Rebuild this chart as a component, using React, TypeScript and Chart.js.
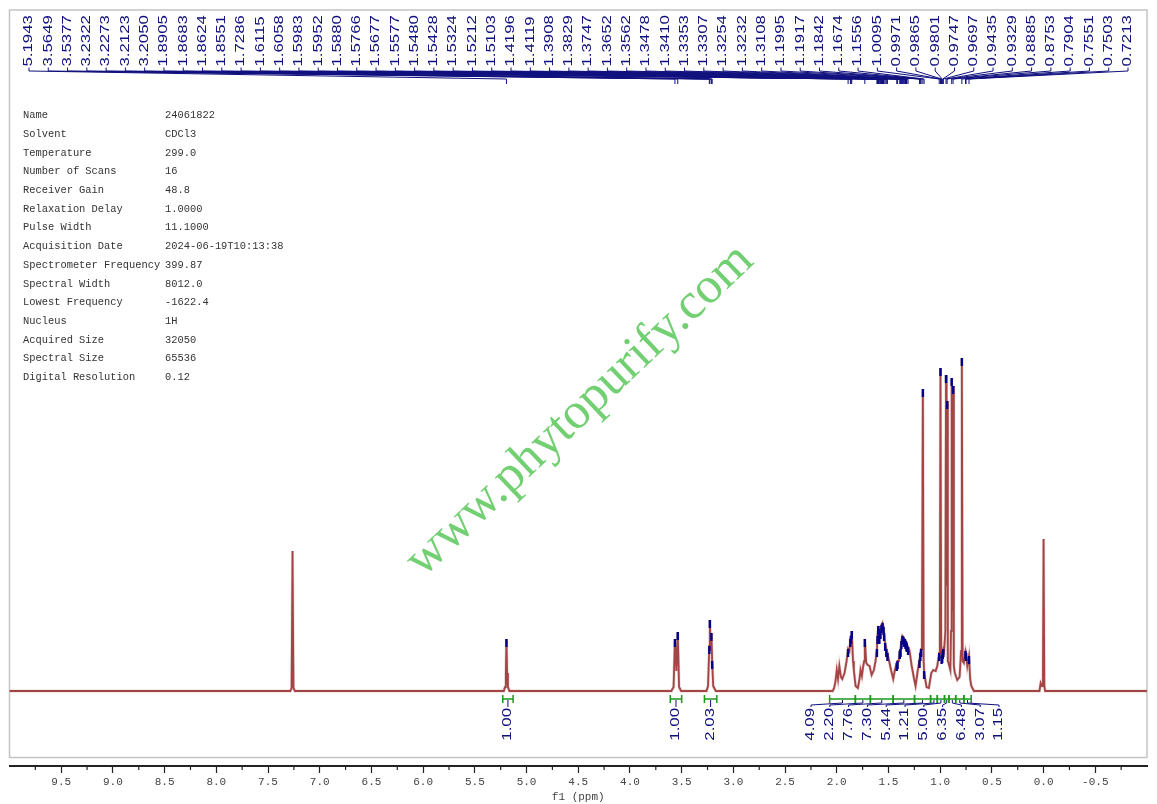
import React, { useEffect, useRef } from "react";
import { Chart, registerables } from "chart.js";

Chart.register(...registerables);

// ---- Spectrum trace (ppm, relative intensity) ----
const SPEC_PPM = [
  10.0, 7.285, 7.272, 7.263, 7.254, 7.24,
  5.22, 5.208, 5.2, 5.1943, 5.188, 5.18, 5.165,
  3.6, 3.578, 3.5649, 3.551, 3.5377, 3.525, 3.505,
  3.26, 3.245, 3.2322, 3.2273, 3.219, 3.2123, 3.205, 3.195, 3.17,
  2.04, 2.025, 2.012, 2.0, 1.988, 1.975, 1.96, 1.947, 1.925, 1.905, 1.8905, 1.878,
  1.8683, 1.8624, 1.8551, 1.843, 1.835, 1.818, 1.796, 1.78, 1.77, 1.757, 1.744, 1.735,
  1.7286, 1.715, 1.7, 1.683, 1.663, 1.641, 1.625, 1.6115, 1.6058, 1.5983, 1.5952, 1.588,
  1.5766, 1.5677, 1.5577, 1.548, 1.5428, 1.5324, 1.5212, 1.5103, 1.496, 1.473, 1.454,
  1.44, 1.4196, 1.4119, 1.4, 1.3908, 1.3829, 1.3747, 1.3652, 1.3562, 1.3478, 1.341,
  1.3353, 1.3307, 1.3254, 1.3232, 1.3108, 1.296, 1.277, 1.254, 1.238, 1.216, 1.1995,
  1.1917, 1.1842, 1.176, 1.1674, 1.16, 1.1556, 1.145, 1.132, 1.109, 1.086, 1.067,
  1.044, 1.028, 1.0095, 1.003, 0.9971, 0.99, 0.9865, 0.9801, 0.9747, 0.9697, 0.962,
  0.95, 0.9435, 0.938, 0.9329, 0.926, 0.919, 0.902, 0.895, 0.8885, 0.882, 0.8753,
  0.868, 0.858, 0.835, 0.812, 0.798, 0.7904, 0.783, 0.771, 0.7551, 0.7503, 0.738,
  0.7213, 0.71, 0.699, 0.674,
  0.04, 0.028, 0.015, 0.006, 0.0, -0.007, -0.015, -1.0,
];
const SPEC_INT = [
  0, 0, 3, 140, 3, 0,
  0, 4, 18, 52, 18, 4, 0,
  0, 4, 52, 20, 59, 4, 0,
  0, 5, 45, 71, 40, 58, 30, 5, 0,
  0, 3, 10, 21, 12, 25, 14, 12, 18, 30, 42, 40,
  52, 55, 60, 30, 21, 5, 3, 12, 21, 15, 25, 30,
  52, 28, 26, 25, 16, 21, 30, 42, 55, 65, 62, 55,
  60, 66, 68, 64, 58, 48, 42, 38, 31, 20, 12,
  20, 28, 30, 30, 40, 42, 50, 55, 54, 52, 52,
  50, 50, 48, 47, 44, 40, 26, 13, 5, 21, 31,
  38, 42, 60, 302, 30, 20, 12, 4, 3, 18, 21,
  20, 25, 38, 60, 323, 35, 35, 36, 40, 42, 40,
  60, 316, 105, 290, 30, 28, 21, 60, 313, 80, 305,
  25, 18, 11, 14, 40, 333, 30, 28, 40, 38, 25,
  35, 12, 5, 0,
  0, 8, 5, 20, 152, 5, 0, 0,
];

// ---- Peak picking (labels at the top, blue tips) ----
const PEAK_PPM = [
  5.1943, 3.5649, 3.5377, 3.2322, 3.2273, 3.2123, 3.205, 1.8905, 1.8683, 1.8624,
  1.8551, 1.7286, 1.6115, 1.6058, 1.5983, 1.5952, 1.588, 1.5766, 1.5677, 1.5577,
  1.548, 1.5428, 1.5324, 1.5212, 1.5103, 1.4196, 1.4119, 1.3908, 1.3829, 1.3747,
  1.3652, 1.3562, 1.3478, 1.341, 1.3353, 1.3307, 1.3254, 1.3232, 1.3108, 1.1995,
  1.1917, 1.1842, 1.1674, 1.1556, 1.0095, 0.9971, 0.9865, 0.9801, 0.9747, 0.9697,
  0.9435, 0.9329, 0.8885, 0.8753, 0.7904, 0.7551, 0.7503, 0.7213,
];
const PEAK_INT = [
  52, 52, 59, 45, 71, 58, 30, 42, 52, 55,
  60, 52, 42, 55, 65, 62, 55, 60, 66, 68,
  64, 58, 48, 42, 38, 28, 30, 40, 42, 50,
  55, 54, 52, 52, 50, 50, 48, 47, 44, 31,
  38, 42, 302, 20, 38, 323, 35, 36, 40, 42,
  316, 290, 313, 305, 333, 40, 38, 35,
];

// ---- Integrals ----
const INT_FROM = [5.23, 3.61, 3.28, 2.069, 1.82, 1.675, 1.455, 1.248, 1.093, 1.028, 0.958, 0.915, 0.85, 0.771];
const INT_TO = [5.13, 3.5, 3.16, 1.82, 1.675, 1.455, 1.248, 1.093, 1.028, 0.958, 0.915, 0.85, 0.771, 0.7];
const INT_VALUES = [1.0, 1.0, 2.03, 4.09, 2.2, 7.76, 7.3, 5.44, 1.21, 5.0, 6.35, 6.48, 3.07, 1.15];

// ---- Axis ticks ----
const X_TICKS = [9.5, 9.0, 8.5, 8.0, 7.5, 7.0, 6.5, 6.0, 5.5, 5.0, 4.5, 4.0, 3.5, 3.0, 2.5, 2.0, 1.5, 1.0, 0.5, 0.0, -0.5];
const X_MINOR = [9.75, 9.25, 8.75, 8.25, 7.75, 7.25, 6.75, 6.25, 5.75, 5.25, 4.75, 4.25, 3.75, 3.25, 2.75, 2.25, 1.75, 1.25, 0.75, 0.25, -0.25, -0.75];

// ---- Parameter table ----
const INFO_KEYS = [
  "Name", "Solvent", "Temperature", "Number of Scans", "Receiver Gain", "Relaxation Delay",
  "Pulse Width", "Acquisition Date", "Spectrometer Frequency", "Spectral Width",
  "Lowest Frequency", "Nucleus", "Acquired Size", "Spectral Size", "Digital Resolution",
];
const INFO_VALUES = [
  "24061822", "CDCl3", "299.0", "16", "48.8", "1.0000", "11.1000", "2024-06-19T10:13:38",
  "399.87", "8012.0", "-1622.4", "1H", "32050", "65536", "0.12",
];

const WATERMARK = "www.phytopurify.com";

const NAVY = "#10107e";
const GREEN = "#1a9a1a";

function drawStretchedVertical(ctx: CanvasRenderingContext2D, text: string, x: number, y: number, align: CanvasTextAlign) {
  ctx.save();
  ctx.translate(x, y);
  ctx.rotate(-Math.PI / 2);
  ctx.scale(1.4, 1);
  ctx.textAlign = align;
  ctx.textBaseline = "middle";
  ctx.fillText(text, 0, 0);
  ctx.restore();
}

const nmrPlugin = {
  id: "nmrDecor",
  beforeDraw(chart: any) {
    const { ctx, width, height } = chart;
    ctx.save();
    ctx.fillStyle = "#ffffff";
    ctx.fillRect(0, 0, width, height);
    const a = chart.chartArea;
    ctx.strokeStyle = "#c4c4c4";
    ctx.lineWidth = 1.5;
    ctx.strokeRect(a.left, a.top, a.right - a.left, a.bottom - 8.5 - a.top);
    ctx.restore();
  },
  beforeDatasetsDraw(chart: any) {
    const { ctx } = chart;
    const a = chart.chartArea;
    ctx.save();
    ctx.save();
    ctx.translate(423, 578);
    ctx.rotate((-43.5 * Math.PI) / 180);
    ctx.font = '51px "Liberation Serif", serif';
    ctx.fillStyle = "#72cf72";
    ctx.textBaseline = "alphabetic";
    ctx.fillText(WATERMARK, 0, 0);
    ctx.restore();
    ctx.font = '10.4px "Liberation Mono", monospace';
    ctx.fillStyle = "#333";
    ctx.textBaseline = "middle";
    ctx.textAlign = "left";
    INFO_KEYS.forEach((k, i) => {
      const y = a.top + 105.5 + i * 18.7;
      ctx.fillText(k, a.left + 13.5, y);
      ctx.fillText(INFO_VALUES[i], a.left + 155.5, y);
    });
    ctx.restore();
  },
  afterDatasetsDraw(chart: any) {
    const { ctx } = chart;
    const xs = chart.scales.x;
    const ys = chart.scales.y;
    const a = chart.chartArea;
    ctx.save();
    ctx.strokeStyle = "#00008b";
    ctx.lineWidth = 2.4;
    PEAK_PPM.forEach((p, i) => {
      const px = xs.getPixelForValue(p);
      const py = ys.getPixelForValue(PEAK_INT[i]);
      ctx.beginPath();
      ctx.moveTo(px, py);
      ctx.lineTo(px, py + 8);
      ctx.stroke();
    });

    const n = PEAK_PPM.length;
    const first = a.left + 19.5;
    const last = a.right - 19;
    const step = (last - first) / (n - 1);
    ctx.font = '12px "Liberation Sans", Arial, sans-serif';
    ctx.fillStyle = NAVY;
    ctx.strokeStyle = NAVY;
    ctx.lineWidth = 1;
    PEAK_PPM.forEach((p, i) => {
      const lx = first + i * step;
      const px = xs.getPixelForValue(p);
      drawStretchedVertical(ctx, p.toFixed(4), lx, a.top + 56.5, "left");
      ctx.beginPath();
      ctx.moveTo(lx, a.top + 57.5);
      ctx.lineTo(lx, a.top + 61);
      ctx.lineTo(px, a.top + 69);
      ctx.lineTo(px, a.top + 74);
      ctx.stroke();
    });

    const yInt = ys.getPixelForValue(0) + 8;
    const naturals = INT_FROM.map((f, i) => (xs.getPixelForValue(f) + xs.getPixelForValue(INT_TO[i])) / 2);
    const minGap = 18.8;
    let groups: any[] = naturals.map((c, i) => ({ idx: [i] }));
    const place = (g: any) => {
      const center = (naturals[g.idx[0]] + naturals[g.idx[g.idx.length - 1]]) / 2;
      const span = (g.idx.length - 1) * minGap;
      g.start = center - span / 2;
      g.end = center + span / 2;
    };
    groups.forEach(place);
    let merged = true;
    while (merged) {
      merged = false;
      for (let i = 0; i < groups.length - 1; i++) {
        const g1 = groups[i];
        const g2 = groups[i + 1];
        if (g2.start - g1.end < minGap) {
          const ng: any = { idx: g1.idx.concat(g2.idx) };
          place(ng);
          groups.splice(i, 2, ng);
          merged = true;
          break;
        }
      }
    }
    const labelX: number[] = [];
    groups.forEach((g: any) => g.idx.forEach((id: number, k: number) => (labelX[id] = g.start + k * minGap)));

    INT_FROM.forEach((f, i) => {
      const x1 = xs.getPixelForValue(f);
      const x2 = xs.getPixelForValue(INT_TO[i]);
      ctx.strokeStyle = GREEN;
      ctx.lineWidth = 1.5;
      ctx.beginPath();
      ctx.moveTo(x1, yInt);
      ctx.lineTo(x2, yInt);
      ctx.moveTo(x1, yInt - 4);
      ctx.lineTo(x1, yInt + 4);
      ctx.moveTo(x2, yInt - 4);
      ctx.lineTo(x2, yInt + 4);
      ctx.stroke();
      const c = naturals[i];
      const lx = labelX[i];
      ctx.strokeStyle = NAVY;
      ctx.lineWidth = 1;
      ctx.beginPath();
      ctx.moveTo(c, yInt + 1);
      ctx.lineTo(c, yInt + 4);
      ctx.lineTo(lx, yInt + 6);
      ctx.lineTo(lx, yInt + 8);
      ctx.stroke();
      ctx.fillStyle = NAVY;
      drawStretchedVertical(ctx, INT_VALUES[i].toFixed(2), lx, yInt + 9, "right");
    });
    ctx.restore();
  },
  afterDraw(chart: any) {
    const { ctx } = chart;
    const xs = chart.scales.x;
    const a = chart.chartArea;
    ctx.save();
    ctx.strokeStyle = "#222";
    ctx.lineWidth = 1.2;
    X_MINOR.forEach((v) => {
      const px = xs.getPixelForValue(v);
      ctx.beginPath();
      ctx.moveTo(px, a.bottom);
      ctx.lineTo(px, a.bottom + 4);
      ctx.stroke();
    });
    ctx.restore();
  },
};

export default function App() {
  const ref = useRef<HTMLCanvasElement | null>(null);
  useEffect(() => {
    if (!ref.current) return;
    const pts = SPEC_PPM.map((p, i) => ({ x: p, y: SPEC_INT[i] }));
    const chart = new Chart(ref.current, {
      type: "line",
      data: {
        datasets: [
          {
            data: pts,
            borderColor: "rgba(200,150,150,0.45)",
            borderWidth: 3,
            pointRadius: 0,
            tension: 0,
            fill: false,
          },
          {
            data: pts,
            borderColor: "#870000",
            borderWidth: 1.8,
            pointRadius: 0,
            tension: 0,
            fill: false,
          },
        ],
      },
      options: {
        animation: false,
        responsive: false,
        devicePixelRatio: 1,
        layout: { padding: { left: 9.5, right: 10, top: 10, bottom: 0.6 } },
        plugins: { legend: { display: false }, tooltip: { enabled: false } },
        scales: {
          x: {
            type: "linear",
            reverse: true,
            min: -1,
            max: 10,
            afterBuildTicks: (s: any) => {
              s.ticks = X_TICKS.map((v) => ({ value: v }));
            },
            ticks: {
              autoSkip: false,
              maxRotation: 0,
              padding: 2,
              color: "#444",
              font: { family: '"Liberation Mono", monospace', size: 11 },
              callback: (v: any) => Number(v).toFixed(1),
            },
            grid: { display: true, drawOnChartArea: false, drawTicks: true, tickLength: 7, color: "#222", tickWidth: 1.2 },
            border: { display: true, color: "#222", width: 2 },
            title: {
              display: true,
              text: "f1 (ppm)",
              color: "#444",
              font: { family: '"Liberation Mono", monospace', size: 11 },
              padding: { top: 0, bottom: 0 },
            },
          },
          y: { type: "linear", display: false, min: -75, max: 681 },
        },
      },
      plugins: [nmrPlugin],
    } as any);
    return () => chart.destroy();
  }, []);
  return (
    <div style={{ position: "absolute", left: 0, top: 0, width: 1157, height: 804, background: "#fff" }}>
      <canvas ref={ref} width={1157} height={804} style={{ display: "block" }} />
    </div>
  );
}
